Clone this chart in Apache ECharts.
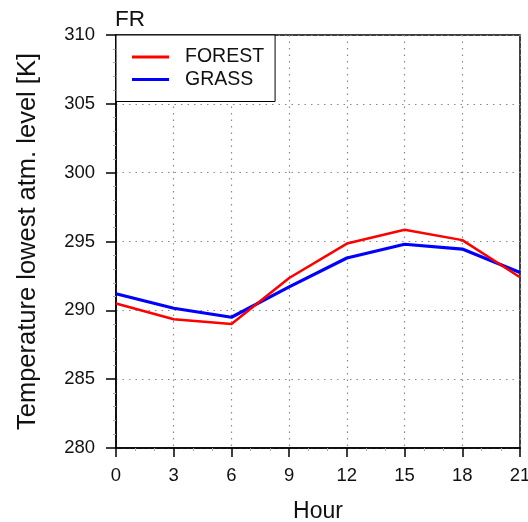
<!DOCTYPE html>
<html><head><meta charset="utf-8">
<script src="https://cdn.jsdelivr.net/npm/echarts@6/dist/echarts.min.js"></script>
<style>html,body{margin:0;padding:0;background:#fff}#c{width:528px;height:522px}</style>
</head><body><div id="c"></div>
<script>
var hours = [0, 3, 6, 9, 12, 15, 18, 21];
var forest = [290.5, 289.35, 289.0, 292.35, 294.85, 295.85, 295.1, 292.4];
var grass = [291.2, 290.15, 289.5, 291.7, 293.8, 294.8, 294.45, 292.75];
var seriesNames = ['FOREST', 'GRASS'];
var font = 'Liberation Sans, Arial, Helvetica, sans-serif';
var chart = echarts.init(document.getElementById('c'));
function pairs(v){ return hours.map(function(h,i){ return [h, v[i]]; }); }
chart.setOption({
  animation: false,
  title: { text: 'FR', left: 115, top: 8, padding: 0, textStyle: { fontFamily: font, fontSize: 22.5, fontWeight: 'normal', color: '#111' } },
  grid: { left: 116, right: 8, top: 35, bottom: 74, outerBoundsMode: 'none', containLabel: false,
          show: true, borderColor: '#000', borderWidth: 1.5, backgroundColor: 'transparent' },
  legend: {
    orient: 'vertical', left: 116, top: 35, z: 10,
    backgroundColor: '#fff', borderColor: '#000', borderWidth: 1, borderRadius: 0,
    padding: [12, 11, 12, 16], itemGap: 2.5, itemWidth: 37, itemHeight: 3, icon: 'rect',
    textStyle: { fontFamily: font, fontSize: 19.5, color: '#111', padding: [0, 0, 0, 11] },
    data: seriesNames
  },
  xAxis: {
    type: 'value', min: 0, max: 21, interval: 3,
    name: 'Hour', nameLocation: 'middle', nameGap: 52,
    nameTextStyle: { fontFamily: font, fontSize: 23, color: '#111' },
    axisLine: { show: true, onZero: false, lineStyle: { color: '#000', width: 1.5 } },
    axisTick: { show: true, inside: false, length: 9, lineStyle: { color: '#000', width: 1.5 } },
    minorTick: { show: true, splitNumber: 3, length: 3, lineStyle: { color: '#aaa' } },
    axisLabel: { fontFamily: font, fontSize: 18.5, color: '#111', margin: 18 },
    splitLine: { show: true, lineStyle: { color: '#888', type: [1.5, 5], width: 1.2 } }
  },
  yAxis: {
    type: 'value', min: 280, max: 310, interval: 5,
    name: 'Temperature lowest atm. level [K]', nameLocation: 'middle', nameGap: 75,
    nameTextStyle: { fontFamily: font, fontSize: 25.5, color: '#111' },
    axisLine: { show: true, lineStyle: { color: '#000', width: 1.5 } },
    axisTick: { show: true, inside: false, length: 10, lineStyle: { color: '#000', width: 1.5 } },
    minorTick: { show: true, splitNumber: 5, length: 3, lineStyle: { color: '#aaa' } },
    axisLabel: { fontFamily: font, fontSize: 18.5, color: '#111', margin: 21 },
    splitLine: { show: true, lineStyle: { color: '#888', type: [1.5, 5], width: 1.2 } }
  },
  series: [
    { name: seriesNames[0], type: 'line', data: pairs(forest), showSymbol: false, symbol: 'none',
      lineStyle: { color: '#ff0000', width: 2.5 }, itemStyle: { color: '#ff0000' }, z: 3 },
    { name: seriesNames[1], type: 'line', data: pairs(grass), showSymbol: false, symbol: 'none',
      lineStyle: { color: '#0000ff', width: 3.2 }, itemStyle: { color: '#0000ff' }, z: 2 }
  ]
});
</script></body></html>
